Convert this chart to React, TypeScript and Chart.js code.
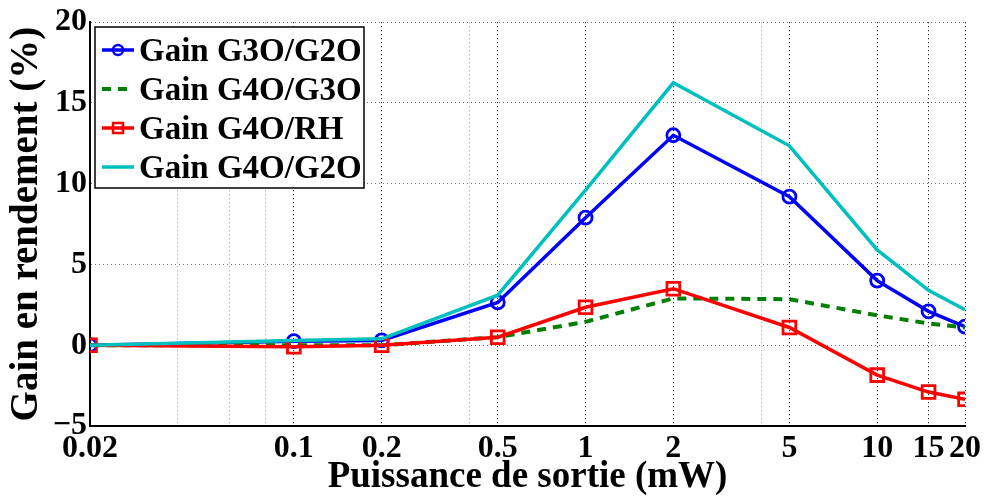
import React, { useEffect, useRef } from 'react';
import { Chart, registerables } from 'chart.js';

Chart.register(...registerables);

// ---- data ----
const xValues = [0.02, 0.1, 0.2, 0.5, 1, 2, 5, 10, 15, 20];
const gainG3OG2O = [0, 0.25, 0.3, 2.65, 7.9, 13.0, 9.2, 4.0, 2.1, 1.15];
const gainG4OG3O = [0, 0, 0, 0.5, 1.45, 2.9, 2.85, 1.85, 1.35, 1.1];
const gainG4ORH = [0, -0.1, 0, 0.5, 2.35, 3.5, 1.1, -1.85, -2.9, -3.35];
const gainG4OG2O = [0, 0.3, 0.4, 3.1, 9.6, 16.25, 12.35, 5.9, 3.4, 2.2];
const seriesLabels = ['Gain G3O/G2O', 'Gain G4O/G3O', 'Gain G4O/RH', 'Gain G4O/G2O'];
const majorTicks = [0.02, 0.1, 0.2, 0.5, 1, 2, 5, 10, 15, 20];
const minorTicks = [0.04, 0.06, 0.08, 0.4, 4];
const yTicks = [-5, 0, 5, 10, 15, 20];
const xTitle = 'Puissance de sortie (mW)';
const yTitle = 'Gain en rendement (%)';

const FONT = '"Liberation Serif", "Times New Roman", serif';

const isMajor = (v: number) => majorTicks.some((m) => Math.abs(m - v) < 1e-9);

const legendPlugin = {
  id: 'matlabLegend',
  afterDraw(chart: any) {
    const ctx = chart.ctx as CanvasRenderingContext2D;
    const x0 = 95, y0 = 27, w = 269, h = 161;
    ctx.save();
    ctx.fillStyle = '#ffffff';
    ctx.fillRect(x0, y0, w, h);
    ctx.strokeStyle = '#000000';
    ctx.lineWidth = 1.5;
    ctx.strokeRect(x0, y0, w, h);
    chart.data.datasets.forEach((ds: any, i: number) => {
      const cy = 50 + i * 39;
      ctx.save();
      ctx.strokeStyle = ds.borderColor;
      ctx.lineWidth = ds.borderWidth;
      ctx.setLineDash(ds.borderDash || []);
      ctx.beginPath();
      ctx.moveTo(102, cy);
      ctx.lineTo(134, cy);
      ctx.stroke();
      ctx.setLineDash([]);
      if (ds.pointRadius > 0) {
        ctx.lineWidth = 2.5;
        ctx.beginPath();
        if (ds.pointStyle === 'circle') {
          ctx.arc(118, cy, 5, 0, Math.PI * 2);
        } else {
          ctx.rect(113, cy - 5, 10, 10);
        }
        ctx.stroke();
      }
      ctx.restore();
      ctx.fillStyle = '#000';
      ctx.font = `bold 33px ${FONT}`;
      ctx.textBaseline = 'alphabetic';
      ctx.textAlign = 'left';
      ctx.fillText(ds.label, 139, cy + 11);
    });
    ctx.restore();
  },
};

export default function App() {
  const ref = useRef<HTMLCanvasElement | null>(null);

  useEffect(() => {
    document.body.style.margin = '0';
    const canvas = ref.current;
    if (!canvas) return;
    const mk = (arr: number[]) => arr.map((y, i) => ({ x: xValues[i], y }));
    const chart = new Chart(canvas, {
      type: 'line',
      data: {
        datasets: [
          {
            label: seriesLabels[0],
            data: mk(gainG3OG2O),
            borderColor: '#0000ff',
            backgroundColor: 'rgba(0,0,0,0)',
            borderWidth: 3.5,
            pointStyle: 'circle',
            pointRadius: 6.5,
            pointBorderWidth: 2.8,
            pointBorderColor: '#0000ff',
            pointBackgroundColor: 'rgba(0,0,0,0)',
            order: 3,
          },
          {
            label: seriesLabels[1],
            data: mk(gainG4OG3O),
            borderColor: '#008000',
            backgroundColor: 'rgba(0,0,0,0)',
            borderWidth: 4,
            borderDash: [9, 7],
            pointRadius: 0,
            order: 2,
          },
          {
            label: seriesLabels[2],
            data: mk(gainG4ORH),
            borderColor: '#ff0000',
            backgroundColor: 'rgba(0,0,0,0)',
            borderWidth: 3.5,
            pointStyle: 'rect',
            pointRadius: 9,
            pointBorderWidth: 2.8,
            pointBorderColor: '#ff0000',
            pointBackgroundColor: 'rgba(0,0,0,0)',
            order: 1,
          },
          {
            label: seriesLabels[3],
            data: mk(gainG4OG2O),
            borderColor: '#00bfbf',
            backgroundColor: 'rgba(0,0,0,0)',
            borderWidth: 3.5,
            pointRadius: 0,
            order: 0,
          },
        ],
      },
      options: {
        responsive: false,
        animation: false,
        events: [],
        layout: { padding: { top: 21, right: 21, left: 0, bottom: 0 } },
        plugins: { legend: { display: false }, tooltip: { enabled: false } },
        scales: {
          x: {
            type: 'logarithmic',
            min: 0.02,
            max: 20,
            afterBuildTicks: (scale: any) => {
              scale.ticks = [...majorTicks, ...minorTicks]
                .sort((a, b) => a - b)
                .map((v) => ({ value: v }));
            },
            afterFit: (scale: any) => {
              scale.height = 72;
            },
            ticks: {
              autoSkip: false,
              maxRotation: 0,
              minRotation: 0,
              padding: 4,
              color: '#000',
              font: { family: FONT, size: 32, weight: 'bold' },
              callback: (v: any) => (isMajor(Number(v)) ? String(Number(v)) : ''),
            },
            grid: {
              drawTicks: false,
              lineWidth: 1,
              color: (c: any) => (c.tick && isMajor(c.tick.value) ? '#000000' : '#9a9a9a'),
            },
            border: { display: true, color: '#000', width: 2, dash: [1, 3] },
            title: {
              display: true,
              text: xTitle,
              color: '#000',
              padding: { top: 0, bottom: 0 },
              font: { family: FONT, size: 37, weight: 'bold', lineHeight: 1.1 },
            },
          },
          y: {
            type: 'linear',
            min: -5,
            max: 20,
            afterBuildTicks: (scale: any) => {
              scale.ticks = yTicks.map((v) => ({ value: v }));
            },
            afterFit: (scale: any) => {
              scale.width = 90;
            },
            ticks: {
              padding: 3,
              color: '#000',
              font: { family: FONT, size: 32, weight: 'bold' },
              callback: (v: any) => (Number(v) < 0 ? '\u2212' + Math.abs(Number(v)) : String(v)),
            },
            grid: {
              drawTicks: false,
              lineWidth: 1,
              color: '#6f6f6f',
            },
            border: { display: true, color: '#000', width: 2, dash: [1, 3] },
            title: {
              display: true,
              text: yTitle,
              color: '#000',
              padding: { top: 4, bottom: 0 },
              font: { family: FONT, size: 39, weight: 'bold', lineHeight: 1.2 },
            },
          },
        },
      },
      plugins: [legendPlugin],
    } as any);
    return () => chart.destroy();
  }, []);

  return (
    <div style={{ width: 986, height: 498, background: '#fff' }}>
      <canvas ref={ref} width={986} height={498} style={{ display: 'block' }} />
    </div>
  );
}
